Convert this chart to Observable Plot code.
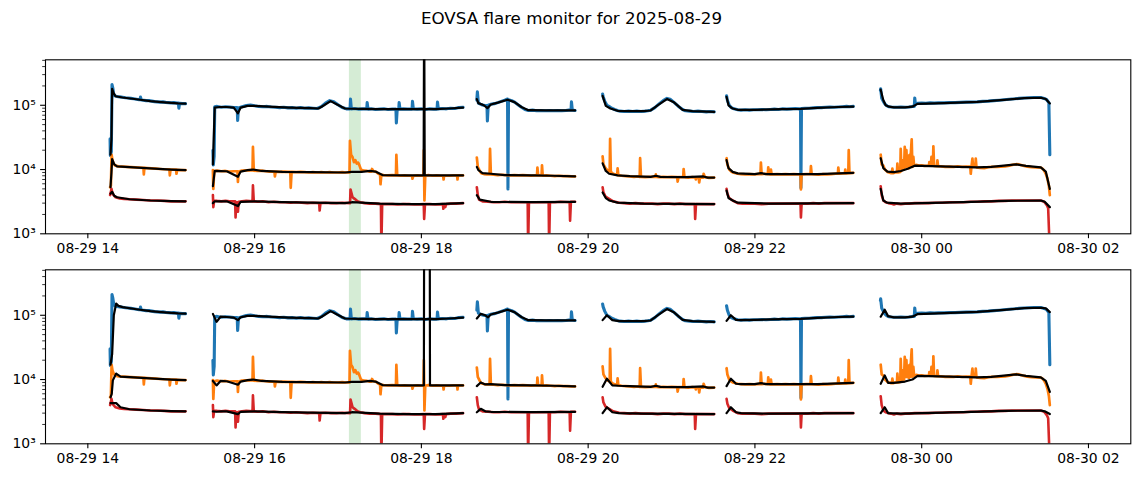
<!DOCTYPE html>
<html><head><meta charset="utf-8">
<script src="https://cdn.jsdelivr.net/npm/d3@7"></script>
<script src="https://cdn.jsdelivr.net/npm/@observablehq/plot@0.6"></script>
<style>
html,body{margin:0;padding:0;background:#fff;}
#fig{position:relative;width:1143px;height:478px;background:#fff;font-family:'DejaVu Sans',sans-serif;overflow:hidden;}
#title{position:absolute;top:8px;left:0;width:1143px;text-align:center;font-size:16.7px;line-height:20px;color:#000;}
#p1{position:absolute;top:40px;left:0;}
#p2{position:absolute;top:262px;left:0;}
</style></head>
<body>
<div id="fig">
  <div id="title">EOVSA flare monitor for 2025-08-29</div>
  <div id="p1"></div>
  <div id="p2"></div>
</div>
<script>
// time: minutes after 2025-08-29 14:00 UT ; values in thousands
const flareSpan = [[188.2, 196.8]];
const xTickHours = [0, 120, 240, 360, 480, 600, 720];
const yMajor = [1e3, 1e4, 1e5];
const yMinor = [2e3,3e3,4e3,5e3,6e3,7e3,8e3,9e3,2e4,3e4,4e4,5e4,6e4,7e4,8e4,9e4,2e5,3e5,4e5,5e5];
const yLabels = {3: "10³", 4: "10⁴", 5: "10⁵"};

const blueRaw = [
 [[16.0,30],[16.2,16.5],[16.9,19],[17.4,210],[18.0,185],[18.6,150],[19.5,140],[21,137],[23,135],[25,133],[27,131],[29,130],[31,128],[33,126],[35,124],[37,122],[37.6,122],[37.9,134],[38.5,121],[40,120],[42,118],[44,118],[46,116],[48,114],[50,113],[52,112],[54,113],[56,111],[58,110],[60,109],[62,110],[64,108],[65.2,108],[65.5,90],[66,107],[68,106],[70.3,106]],
 [[90.0,20],[90.3,11.8],[90.9,16],[91.3,95],[93,96],[96,93],[99,95],[102,94],[105,92],[107.5,92],[107.8,58],[108.4,91],[111,95],[114,99],[117,101],[120,98],[123,96],[126,95],[129,96],[132,94],[135,93],[138,92],[141,93],[144,91],[147,92],[150,90],[153,92],[156,90],[159,91],[162,90],[165,89],[168,95],[171,108],[174,118],[177,113],[180,102],[183,92],[186,88],[188.7,88],[189,125],[189.6,88],[192,89],[195,87],[198,88],[200.7,88],[201,110],[201.6,87],[204,88],[207,86],[210,87],[213,88],[216,86],[219,87],[221.7,87],[222,53],[222.6,86],[223.7,86],[224,110],[224.6,87],[227,88],[230,87],[233.3,87],[233.6,115],[234.2,88],[237,87],[240,88],[243,86],[246,88],[249,87],[251.3,87],[251.6,112],[252.2,88],[255,89],[258,88],[261,90],[264,89],[267,92],[270,93]],
 [[279.9,120],[280.3,162],[281,108],[282.5,104],[284,101],[285.5,99],[287.2,99],[287.5,57],[288.1,100],[290,104],[292.5,106],[295,110],[297.5,115],[300,120],[302,125],[302.3,5.0],[302.7,122],[305,118],[307,112],[309.5,102],[312,93],[314.5,86],[317,83],[320,84],[323,82],[326,83],[329,82],[332,83],[335,82],[338,83],[341,82],[344,83],[346,84],[347.7,84],[348,113],[348.6,84],[350.6,83]],
 [[370.4,150],[370.8,135],[372,115],[373.5,100],[375,96],[377,90],[379,86],[381,83],[383,81],[386,80],[389,81],[392,80],[395,81],[398,80],[401,81],[403,82],[405,84],[408,92],[411,105],[414,118],[416.7,128],[419,124],[422,110],[425,96],[428,86],[430,82],[433,81],[436,80],[439,81],[442,80],[445,79],[448,80],[450.7,79]],
 [[459.6,140],[460.2,120],[461.5,100],[463,92],[465,88],[467.6,85],[470,84],[473,85],[476,84],[479,85],[482,85],[485,86],[488,85],[491,86],[494,87],[497,86],[500,88],[503,87],[506,88],[509,89],[512,88],[512.8,88],[513.1,5.2],[513.5,89],[516,90],[519,90],[522,91],[525,92],[528,92],[531,93],[534,94],[537,93],[540,94],[543,95],[546,96],[548,95],[550.8,96]],
 [[570.3,170],[570.5,180],[571.2,130],[572.4,115],[573.5,105],[574.5,100],[575.3,97],[576.5,95],[578,94],[580,93],[582.5,93],[585,94],[588,93],[591,94],[593.3,96],[594.7,96],[595,130],[595.5,104],[597,107],[600,108],[603,107],[606,109],[609,108],[612,109],[616,109],[620,110],[624,110],[628,111],[632,112],[636,112],[640,113],[644,115],[648,116],[652,118],[656,120],[659.3,122],[663,124],[667,126],[670,128],[673.7,130],[677,131],[681,132],[685.7,132],[688.1,128],[690,122],[691.5,110],[692.2,17]]
];

const orangeRaw = [
 [[16.0,5.3],[16.6,5.6],[17.1,17],[17.7,14],[18.5,12.5],[19.5,11.6],[22,11.2],[25,11.1],[28,11.0],[31,10.9],[34,10.8],[37,10.7],[40,10.6],[40.3,8.4],[40.7,10.6],[43,10.5],[46,10.4],[49,10.3],[52,10.2],[55,10.1],[58,10.1],[58.7,10.1],[59,8.1],[59.5,10.0],[62,10.0],[63.5,10.0],[63.8,8.6],[64.3,9.9],[67,9.8],[70.3,9.8]],
 [[90.0,9.8],[90.3,5.0],[90.9,9.4],[93,9.6],[96,9.4],[99,9.5],[102,9.3],[105,9.4],[107.7,9.4],[108,6.4],[108.5,9.3],[111,9.6],[114,9.7],[117,9.8],[118.5,9.7],[118.8,22.5],[119.4,9.6],[122,9.5],[125,9.6],[128,9.4],[131,9.3],[134.3,9.3],[134.6,7.8],[135.2,9.3],[138,9.2],[141,9.3],[144,9.2],[145.7,9.2],[146,5.2],[146.6,9.2],[150,9.1],[153,9.2],[156,9.1],[159,9.0],[162,9.1],[165,9.0],[168,9.1],[171,9.0],[174,9.1],[177,9.0],[180,9.0],[183,9.1],[186,9.0],[188.3,9.0],[188.6,28],[189.4,17],[190.5,15.5],[191.5,13],[192.5,14],[193.5,12.4],[194.5,12.8],[195.5,11.5],[196.5,10],[198.5,9.6],[201,9.5],[203,9.3],[204.2,9.3],[204.5,10.2],[205.5,9.4],[207,9.3],[209,8.6],[210.3,8.4],[210.6,5.9],[211.2,8.3],[213,8.2],[216,8.1],[219,8.2],[221.7,8.1],[222,17],[222.6,8.1],[225,8.0],[228,8.1],[231,8.0],[233.3,8.0],[233.6,7.2],[234.2,8.0],[237,8.1],[240,8.0],[241.5,8.0],[241.8,20],[242.2,3.3],[242.8,8.0],[245,8.2],[248,8.0],[251,8.1],[254,8.0],[255.7,8.0],[256,7.0],[256.3,8.0],[260,8.0],[263,8.1],[265.7,8.1],[266,7.0],[266.3,8.1],[270,8.1]],
 [[279.9,15.3],[280.6,11],[281.5,10],[283,8.8],[285,8.5],[287,8.4],[289.1,8.4],[289.4,21],[290,8.4],[292,8.3],[295,8.2],[298,8.3],[301,8.2],[304,8.1],[307,8.2],[310,8.1],[313,8.2],[316,8.1],[319,8.0],[322,8.1],[323.2,8.1],[323.5,10.7],[324,8.1],[326.5,8.1],[326.8,11.6],[327.3,8.0],[330,8.1],[333,8.0],[336,7.9],[339,8.0],[342,7.9],[345,7.9],[348,7.8],[350.6,7.8]],
 [[370.4,16],[371,12],[372.5,10.5],[374,9.7],[375.5,9.4],[375.8,30],[376.3,9.2],[378,8.6],[380.9,8.2],[381.2,10.4],[381.7,8.2],[384,8.0],[387,7.9],[390,7.8],[393,7.7],[396,7.8],[397.1,7.7],[397.4,15],[398,7.7],[401,7.6],[404,7.7],[408.4,7.7],[408.7,8.4],[409,7.7],[411,7.6],[414,7.7],[417,7.6],[420,7.7],[424.1,7.6],[424.4,6.5],[425,7.6],[428.4,7.6],[428.7,10.2],[429.3,7.6],[432,7.5],[435,7.6],[437.2,7.5],[437.5,7.0],[438,7.5],[439.6,7.5],[439.9,6.3],[440.5,7.5],[442.8,7.5],[443.1,8.6],[444,7.6],[447,7.4],[450.7,7.5]],
 [[459.6,15],[460.2,12],[461.5,10],[463,9.3],[464,9.0],[467.6,8.6],[470,8.5],[473,8.4],[476,8.5],[479,8.4],[482,8.5],[484,8.5],[484.3,12.8],[484.8,8.5],[487,8.6],[489.3,8.5],[489.6,10.8],[490.1,8.5],[491.2,8.4],[491.5,10.0],[492,8.4],[496,8.5],[499,8.4],[502,8.5],[505,8.4],[508,8.5],[511,8.4],[512.8,8.4],[513.1,4.9],[513.6,8.4],[517,8.5],[520,8.5],[520.3,11.3],[520.8,8.5],[523,8.4],[526,8.3],[529,8.5],[532,8.4],[535,8.5],[538,8.6],[539.7,8.6],[540,10.7],[540.5,8.6],[543,8.7],[544.7,8.7],[545,10],[545.5,8.7],[547.2,8.8],[547.5,20],[548,8.8],[550.8,8.9]],
 [[570.5,17],[571.2,12],[572.4,11.5],[573.5,10],[575.3,9.2],[576.5,9.0],[578,8.8],[578.6,8.8],[578.9,10.3],[579.4,8.8],[581,9.0],[582.2,9.0],[582.5,12.4],[583,9.0],[584.6,9.2],[584.9,21],[585.4,9.5],[586.8,14],[587.3,10],[587.8,22.5],[588.3,11],[589,20],[589.5,11],[590.2,12.4],[590.7,10.5],[591.1,16.7],[591.6,11],[592.8,29.5],[593.3,11],[594,15.7],[594.5,11.5],[595.2,11.6],[596,11.8],[598,11.5],[600,11.6],[602,11.4],[605.2,11.5],[605.5,13],[606,11.6],[606.7,11.5],[607,15.7],[607.5,11.5],[608.1,11.5],[608.4,23],[608.9,11.4],[611,11.3],[611.3,13.9],[611.8,11.3],[614,11.2],[617,11.0],[620,11.1],[623,11.0],[626,11.2],[629,11.0],[632,11.1],[635,11.1],[635.3,8.6],[635.8,11.0],[636.5,14.8],[637,11],[638.6,11],[638.9,14.8],[639.4,10.8],[642,10.6],[645,10.5],[648,10.9],[651,11.0],[654,11.0],[657,11.1],[660,11.2],[663,11.5],[666,11.9],[668,12.1],[670,12.0],[673,11.5],[676,11.1],[679,10.9],[682,10.8],[685.7,10.7],[687,10.3],[688.1,9.6],[689.3,8.6],[690.5,7.2],[691.5,5.6],[692.2,4.0]]
];

const redRaw = [
 [[16.0,4.0],[16.5,4.4],[17.0,5.0],[17.6,4.4],[18.5,4.0],[20,3.7],[23,3.55],[26,3.5],[30,3.45],[35,3.4],[40,3.35],[45,3.3],[50,3.3],[55,3.25],[60,3.2],[65,3.2],[70.3,3.2]],
 [[90.0,4.0],[90.3,2.6],[90.9,3.3],[93,3.25],[96,3.2],[99,3.25],[102,3.2],[106,3.2],[106.3,1.8],[106.8,3.1],[107.7,3.1],[108,2.2],[108.6,3.15],[111,3.2],[114,3.25],[118.5,3.2],[118.8,5.7],[119.4,3.2],[122,3.15],[126,3.2],[130,3.1],[134,3.15],[138,3.1],[142,3.1],[146,3.05],[150,3.1],[154,3.05],[158,3.0],[162,3.05],[166.5,3.0],[166.8,2.3],[167.4,3.0],[171,3.05],[175,3.0],[179,3.0],[183,3.05],[188.7,3.0],[189,4.9],[190.5,3.7],[192,3.5],[194,3.2],[196,3.1],[199,3.0],[203,2.95],[207,2.95],[210.9,2.9],[211.2,0.6],[211.8,2.9],[215,2.9],[219,2.9],[223,2.85],[227,2.9],[231,2.9],[235,2.85],[241.7,2.9],[242,1.7],[242.6,2.9],[246,2.9],[250,2.85],[255.5,2.9],[255.8,2.45],[256.4,2.9],[257.2,2.6],[257.8,2.9],[261,2.95],[265,2.95],[270,3.0]],
 [[279.9,5.3],[280.6,4.0],[281.5,3.4],[284,3.2],[288,3.15],[292,3.1],[296,3.1],[300,3.15],[304,3.1],[308,3.1],[316.5,3.1],[316.8,0.6],[317.4,3.1],[321,3.1],[325,3.1],[331.6,3.1],[331.9,0.6],[332.5,3.1],[336,3.1],[340,3.15],[346.7,3.1],[347,1.6],[347.6,3.15],[350.6,3.15]],
 [[370.4,5.3],[371,4.4],[372.5,3.8],[375.1,3.5],[378,3.2],[382.3,3.05],[386,3.0],[390,2.95],[394,3.0],[398,2.95],[402,2.95],[406,2.95],[410,2.9],[414,2.95],[418,2.95],[422,2.9],[426,2.95],[430,2.9],[436.7,2.9],[437,1.7],[437.6,2.9],[441,2.9],[445,2.9],[450.7,2.9]],
 [[459.6,5.0],[460.2,4.2],[461.5,3.6],[464,3.3],[467.6,3.0],[471,2.95],[475,2.95],[480,2.95],[485,2.9],[490,2.95],[495,2.95],[500,2.95],[505,2.95],[512.8,2.95],[513.1,1.8],[513.6,2.95],[518,2.95],[522,3.0],[526,2.95],[530,3.0],[535,3.0],[540,3.0],[545,3.0],[550.8,3.0]],
 [[570.5,5.5],[571.2,4.0],[572.4,3.3],[574,3.1],[576,3.0],[578,2.95],[580,2.85],[582,2.95],[585,2.9],[588,2.95],[591,2.95],[595,3.0],[600,3.0],[605,3.0],[610,3.05],[615,3.05],[620,3.1],[625,3.1],[630,3.1],[635,3.15],[640,3.15],[645,3.2],[650,3.2],[655,3.25],[660,3.25],[665,3.3],[670,3.3],[675,3.3],[680,3.3],[685.7,3.3],[688.1,3.15],[690,2.8],[691,2.5],[692.2,0.5]]
];

// smoothed curves, upper panel
const blueSmoothTop = [
 [[16.3,17],[17.0,30],[17.5,180],[18.5,155],[20,138],[25,132],[35,124],[45,116],[55,111],[65,107],[70.3,106]],
 [[90.0,12],[91.3,92],[95,94],[100,94],[105,92],[108,75],[110,92],[115,98],[120,98],[130,95],[145,92],[160,90],[166,89],[170,100],[174.7,116],[179,104],[185,89],[195,88],[210,87],[230,87],[250,87],[260,89],[270,92]],
 [[279.9,125],[281,108],[285,100],[287.5,90],[290,103],[295,110],[302,122],[307,112],[312,94],[317,84],[330,83],[350.6,83]],
 [[370.4,140],[372.7,98],[376,89],[381.2,82],[390,81],[400,81],[405,83],[411,103],[416.7,125],[422,110],[428,85],[435,81],[450.7,79]],
 [[459.6,135],[461,100],[464,89],[467.6,85],[480,85],[500,87],[513,88],[525,91],[540,94],[550.8,95]],
 [[570.5,175],[572.4,120],[574.1,100],[576.5,95],[580.1,93],[588,93],[593.3,95],[596.9,105],[616,108],[640,113],[659.3,121],[673.7,129],[685.7,131],[689.3,125],[692.2,107]]
];
const orangeSmoothTop = [
 [[16.3,5.3],[17.0,9],[17.5,14.5],[19,12],[21,11.2],[30,10.9],[45,10.4],[60,10.0],[70.3,9.8]],
 [[90.0,5.5],[91.3,9.5],[100,9.4],[108,7.7],[110,9.3],[115,9.8],[119,10],[125,9.5],[140,9.2],[160,9.1],[185,9.0],[190,9.2],[197,9.2],[203,9.5],[207,9.3],[212,8.2],[230,8.1],[241.6,8.1],[242.0,5000],[242.4,8.1],[250,8.1],[260,8.1],[270,8.1]],
 [[279.9,11],[281,9.8],[284,8.8],[290,8.6],[300,8.2],[320,8.1],[335,8.0],[350.6,7.8]],
 [[370.4,12.5],[372.7,9.5],[375.1,8.6],[381.2,8.1],[390,7.9],[405,7.7],[408.7,8.0],[412,7.7],[430,7.6],[443,7.8],[446,7.5],[450.7,7.5]],
 [[459.6,14],[461,10.5],[464,9.2],[467.6,8.7],[480,8.5],[484.3,8.8],[488,8.5],[510,8.5],[525,8.5],[540,8.7],[550.8,8.9]],
 [[570.5,15],[572.4,10.5],[575.3,9.3],[580,9.1],[585,9.5],[590,10.3],[595,11.5],[600,11.4],[620,11.1],[640,10.8],[650,11],[668,12.0],[675,11.4],[685.7,10.8],[689.3,9.3],[692.2,5.0]]
];
const redSmoothTop = [
 [[16.3,4.2],[17.5,4.5],[19,3.9],[21,3.7],[30,3.45],[45,3.3],[60,3.22],[70.3,3.2]],
 [[90,3.0],[91.3,3.2],[100,3.2],[108,2.7],[110,3.15],[120,3.2],[140,3.1],[160,3.05],[185,3.0],[190,3.1],[197,3.05],[210,2.95],[230,2.9],[250,2.9],[270,3.0]],
 [[279.9,4.0],[282,3.4],[290,3.15],[320,3.1],[350.6,3.15]],
 [[370.4,4.4],[372.7,3.6],[375.1,3.3],[381.2,3.05],[400,2.95],[450.7,2.9]],
 [[459.6,4.7],[461,3.6],[464,3.3],[467.6,3.05],[490,2.95],[520,2.97],[550.8,3.0]],
 [[570.5,5.0],[572.4,3.3],[575,3.05],[585,2.95],[600,3.0],[630,3.1],[660,3.25],[685.7,3.3],[688.5,3.15],[692.2,2.6]]
];

// smoothed curves, lower panel
const blueSmoothBottom = [
 [[16.3,17],[17.5,25],[18.7,100],[20.4,152],[22,140],[25,134],[35,124],[45,116],[55,111],[65,107],[70.3,106]],
 [[90.0,105],[92.6,79],[95.5,95],[100,94],[105,92],[108,84],[110,93],[115,98],[120,98],[130,95],[145,92],[160,90],[166,89],[170,100],[174.7,116],[179,104],[185,89],[195,88],[210,87],[230,87],[250,87],[260,89],[270,92]],
 [[279.9,89],[282.7,105],[286,100],[288,93],[290,103],[295,110],[302,122],[307,112],[312,94],[317,84],[330,83],[350.6,83]],
 [[370.4,84],[373.5,100],[377.4,84],[382.3,81],[390,81],[400,81],[405,83],[411,103],[416.7,125],[422,110],[428,85],[435,81],[450.7,79]],
 [[459.6,82],[462.7,100],[466.4,85],[470,84],[480,85],[500,87],[513,88],[525,91],[540,94],[550.8,95]],
 [[570.5,95],[573.4,122],[575.8,97],[580,93],[588,93],[593.3,95],[596.9,104],[616,108],[640,113],[659.3,121],[673.7,129],[685.7,131],[689.3,128],[692.2,112]]
];
const orangeSmoothBottom = [
 [[16.3,5.3],[17.2,6],[18,9.7],[20.4,12.4],[23.5,11.1],[30,10.9],[45,10.4],[60,10.0],[70.3,9.8]],
 [[90,9.5],[92.6,8.1],[95.5,9.5],[100,9.4],[108,8.3],[110,9.3],[115,9.8],[119,10],[125,9.5],[140,9.2],[160,9.1],[185,9.0],[190,9.2],[197,9.2],[203,9.5],[207,9.3],[212,8.2],[230,8.1],[241.8,8.1],[242.0,5000],[246.0,5000],[246.2,8.1],[250,8.1],[260,8.1],[270,8.1]],
 [[279.9,7.9],[282.7,9.0],[286,8.4],[290,8.5],[300,8.2],[320,8.1],[335,8.0],[350.6,7.8]],
 [[370.4,7.7],[373.5,10.3],[377.4,8.1],[382,8.0],[390,7.9],[405,7.7],[408.7,8.0],[412,7.7],[430,7.6],[443,7.8],[446,7.5],[450.7,7.5]],
 [[459.6,7.9],[462.7,10.3],[466.4,8.6],[470,8.5],[480,8.5],[484.3,8.8],[488,8.5],[510,8.5],[525,8.5],[540,8.7],[550.8,8.9]],
 [[570.5,8.6],[573.4,11.6],[575.8,8.9],[580,8.9],[588,9.3],[593.3,10],[597,11.4],[620,11.1],[640,10.8],[650,11],[668,12.0],[675,11.4],[685.7,10.8],[689.3,9.5],[692.2,6.4]]
];
const redSmoothBottom = [
 [[16.3,4.3],[20.4,4.3],[23.5,3.7],[30,3.45],[45,3.3],[60,3.22],[70.3,3.2]],
 [[90,3.2],[92.6,3.15],[96,3.2],[100,3.2],[108,2.9],[110,3.15],[120,3.2],[140,3.1],[160,3.05],[185,3.0],[190,3.1],[197,3.05],[210,2.95],[230,2.9],[250,2.9],[270,3.0]],
 [[279.9,3.1],[282.7,3.5],[286,3.2],[290,3.15],[320,3.1],[350.6,3.15]],
 [[370.4,3.0],[373.5,3.7],[377.4,3.1],[382,3.0],[400,2.95],[450.7,2.9]],
 [[459.6,3.0],[462.7,3.7],[466.4,3.1],[470,3.0],[490,2.95],[520,2.97],[550.8,3.0]],
 [[570.5,3.0],[573.4,3.7],[575.8,3.0],[585,2.95],[600,3.0],[630,3.1],[660,3.25],[685.7,3.3],[688.5,3.2],[692.2,2.9]]
];

const T0 = Date.UTC(2025, 7, 29, 14, 0);
const toDate = m => new Date(T0 + m * 60000);
const rows = segs => segs.flatMap((seg, i) => seg.map(([t, v]) => ({t: toDate(t), v: v * 1000, seg: i})));

const xDomain = [toDate(-30.46), toDate(750.46)];
const yDomain = [1e3, 5.1e5];
const spans = flareSpan.map(([a, b]) => ({a: toDate(a), b: toDate(b)}));
const xTicks = xTickHours.map(toDate);
const fmtX = d3.utcFormat("%m-%d %H");

const C = {blue: "#1f77b4", orange: "#ff7f0e", red: "#d62728", green: "#2ca02c"};

function panel(smooth, height, mt, mb) {
  return Plot.plot({
    width: 1143, height,
    marginLeft: 45, marginRight: 12.7, marginTop: mt, marginBottom: mb,
    style: {fontFamily: "'DejaVu Sans', sans-serif", fontSize: "13.9px", background: "white", color: "black"},
    x: {type: "utc", domain: xDomain},
    y: {type: "log", domain: yDomain},
    marks: [
      Plot.rect(spans, {x1: "a", x2: "b", y1: yDomain[0], y2: yDomain[1], fill: C.green, fillOpacity: 0.2}),
      Plot.line(rows(blueRaw), {x: "t", y: "v", z: "seg", stroke: C.blue, strokeWidth: 3.1, clip: true}),
      Plot.line(rows(orangeRaw), {x: "t", y: "v", z: "seg", stroke: C.orange, strokeWidth: 2.7, clip: true}),
      Plot.line(rows(redRaw), {x: "t", y: "v", z: "seg", stroke: C.red, strokeWidth: 2.6, clip: true}),
      Plot.line(rows(smooth[0]), {x: "t", y: "v", z: "seg", stroke: "black", strokeWidth: 2.2, clip: true}),
      Plot.line(rows(smooth[1]), {x: "t", y: "v", z: "seg", stroke: "black", strokeWidth: 2.2, clip: true}),
      Plot.line(rows(smooth[2]), {x: "t", y: "v", z: "seg", stroke: "black", strokeWidth: 2.2, clip: true}),
      Plot.frame({stroke: "black", strokeWidth: 1.1}),
      Plot.axisX({ticks: xTicks, tickFormat: fmtX, tickSize: 4.9, tickPadding: 4.9, strokeWidth: 1.1, label: null, fontSize: 13.9}),
      Plot.axisY({ticks: yMajor, tickFormat: d => yLabels[Math.round(Math.log10(d))], tickSize: 4.9, tickPadding: 4.9, strokeWidth: 1.1, label: null, fontSize: 13.9}),
      Plot.axisY({ticks: yMinor, tickFormat: () => "", tickSize: 2.8, strokeWidth: 0.8, label: null})
    ]
  });
}

document.getElementById("p1").append(panel([blueSmoothTop, orangeSmoothTop, redSmoothTop], 222, 19.3, 28.7));
document.getElementById("p2").append(panel([blueSmoothBottom, orangeSmoothBottom, redSmoothBottom], 216, 7.3, 34.7));
</script>
</body></html>
